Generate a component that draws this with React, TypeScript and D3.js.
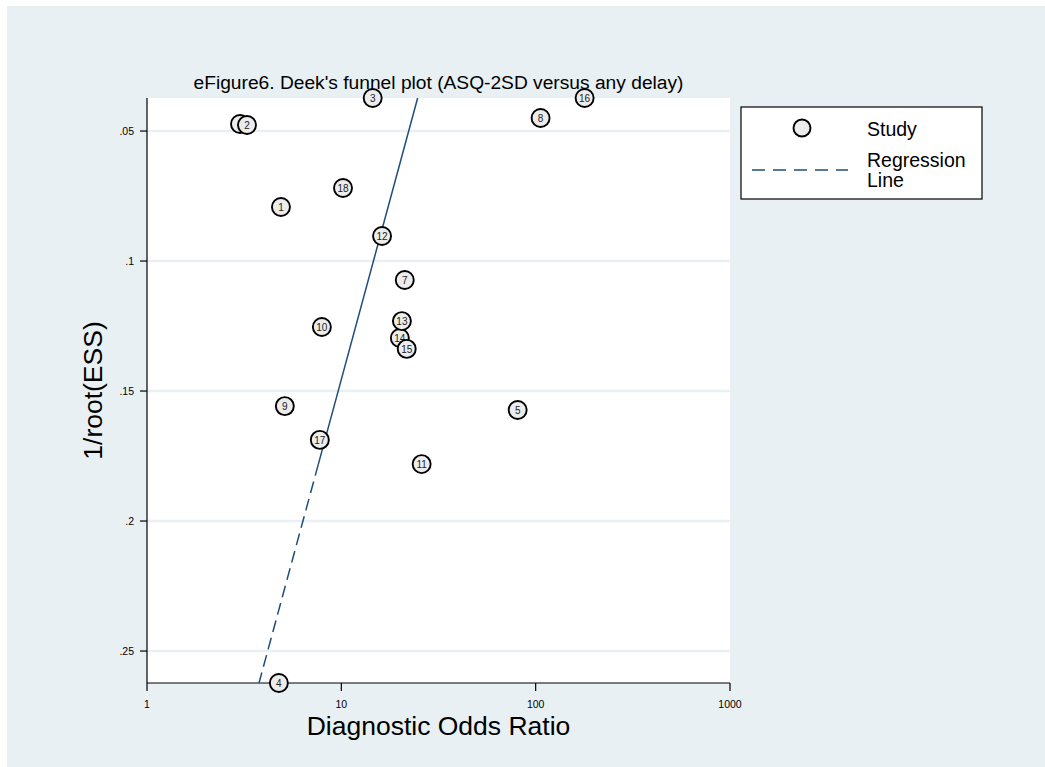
import React from "react";
import * as d3 from "d3";

// study labels, diagnostic odds ratio, 1/sqrt(ESS)
const studyIds = [1, 2, 3, 4, 5, 6, 7, 8, 9, 10, 11, 12, 13, 14, 15, 16, 17, 18];
const dor = [4.89, 3.27, 14.5, 4.77, 80.8, 3.01, 21.2, 106, 5.12, 7.94, 25.9, 16.2, 20.5, 20.0, 21.7, 178.6, 7.75, 10.2];
const invRootEss = [0.0792, 0.0477, 0.0373, 0.2623, 0.1573, 0.0473, 0.1073, 0.045, 0.1558, 0.1254, 0.1781, 0.0904, 0.1231, 0.1296, 0.1338, 0.0373, 0.1688, 0.0719];

// regression line end points (y, DOR) and where the dashes begin
const regY = [0.0373, 0.2623];
const regDor = [24.7, 3.77];
const regDashFrom = 0.1781;

const xTicks = [1, 10, 100, 1000];
const yTicks = [0.05, 0.1, 0.15, 0.2, 0.25];

const bg = "#e8f0f3";
const lineBlue = "#1f4e79";
const font = "'Liberation Sans', Arial, sans-serif";

const plot = { left: 147, right: 730, top: 98, bottom: 683 };

const fmtY = (v: number) => d3.format(".2f")(v).replace(/^0/, "").replace(/0$/, "");

export default function App() {
    const x = d3.scaleLog().domain([1, 1000]).range([plot.left, plot.right]);
    const y = d3
        .scaleLinear()
        .domain([d3.min(invRootEss) as number, d3.max(invRootEss) as number])
        .range([plot.top, plot.bottom]);

    // log10(DOR) linear in y
    const b = (Math.log10(regDor[1]) - Math.log10(regDor[0])) / (regY[1] - regY[0]);
    const fit = (v: number) => Math.pow(10, Math.log10(regDor[0]) + b * (v - regY[0]));

    // drawn left to right so overlapping markers stack like the original
    const points = studyIds
        .map((id, i) => ({ id, dor: dor[i], y: invRootEss[i] }))
        .sort((a, c) => a.dor - c.dor);

    return (
        <div style={{ position: "absolute", left: 0, top: 0 }}>
            <svg width={1045} height={767} style={{ display: "block" }} fontFamily={font}>
                <rect x={0} y={0} width={1045} height={767} fill="#ffffff" />
                <rect x={7} y={6} width={1038} height={761} fill={bg} />
                <rect
                    x={plot.left}
                    y={plot.top}
                    width={plot.right - plot.left}
                    height={plot.bottom - plot.top}
                    fill="#ffffff"
                />
                {yTicks.map(t => (
                    <g key={t}>
                        <line x1={plot.left} x2={plot.right} y1={y(t)} y2={y(t)} stroke={bg} strokeWidth={2.5} />
                        <line x1={plot.left - 7} x2={plot.left} y1={y(t)} y2={y(t)} stroke="#000" strokeWidth={1.2} />
                        <text x={plot.left - 13} y={y(t)} dy="0.35em" fontSize={10.5} textAnchor="end" fill="#000">
                            {fmtY(t)}
                        </text>
                    </g>
                ))}
                {xTicks.map(t => (
                    <g key={t}>
                        <line x1={x(t)} x2={x(t)} y1={plot.bottom} y2={plot.bottom + 8} stroke="#000" strokeWidth={1.2} />
                        <text x={x(t)} y={plot.bottom + 25} fontSize={10.5} textAnchor="middle" fill="#000">
                            {t}
                        </text>
                    </g>
                ))}
                <line x1={plot.left} x2={plot.left} y1={plot.top} y2={plot.bottom} stroke="#000" strokeWidth={1.2} />
                <line x1={plot.left} x2={plot.right} y1={plot.bottom} y2={plot.bottom} stroke="#000" strokeWidth={1.2} />

                <line
                    x1={x(fit(regY[0]))}
                    y1={y(regY[0])}
                    x2={x(fit(regDashFrom))}
                    y2={y(regDashFrom)}
                    stroke={lineBlue}
                    strokeWidth={1.5}
                />
                <line
                    x1={x(fit(regDashFrom))}
                    y1={y(regDashFrom)}
                    x2={x(fit(regY[1]))}
                    y2={y(regY[1])}
                    stroke={lineBlue}
                    strokeWidth={1.5}
                    strokeDasharray="12 6"
                />

                {points.map(p => (
                    <g key={p.id} transform={`translate(${x(p.dor)},${y(p.y)})`}>
                        <circle r={9} fill="#ececec" stroke="#000" strokeWidth={1.9} />
                        <text dy="0.36em" fontSize={10} textAnchor="middle" fill="#222">
                            {p.id}
                        </text>
                    </g>
                ))}

                <text x={(plot.left + plot.right) / 2} y={89} fontSize={19.2} textAnchor="middle" fill="#000">
                    eFigure6. Deek's funnel plot (ASQ-2SD versus any delay)
                </text>
                <text x={(plot.left + plot.right) / 2} y={735} fontSize={26.5} textAnchor="middle" fill="#000">
                    Diagnostic Odds Ratio
                </text>
                <text
                    transform={`translate(102,${(plot.top + plot.bottom) / 2}) rotate(-90)`}
                    fontSize={26.5}
                    textAnchor="middle"
                    fill="#000"
                >
                    1/root(ESS)
                </text>

                <g>
                    <rect x={741} y={107} width={241} height={92} fill="#ffffff" stroke="#000" strokeWidth={1.2} />
                    <circle cx={802} cy={128} r={8.5} fill="#ececec" stroke="#000" strokeWidth={1.9} />
                    <text x={867} y={136} fontSize={19.5} fill="#000">Study</text>
                    <line x1={752} x2={848} y1={170} y2={170} stroke={lineBlue} strokeWidth={1.3} strokeDasharray="13 8" />
                    <text x={867} y={167} fontSize={19.5} fill="#000">Regression</text>
                    <text x={867} y={187} fontSize={19.5} fill="#000">Line</text>
                </g>
            </svg>
        </div>
    );
}
